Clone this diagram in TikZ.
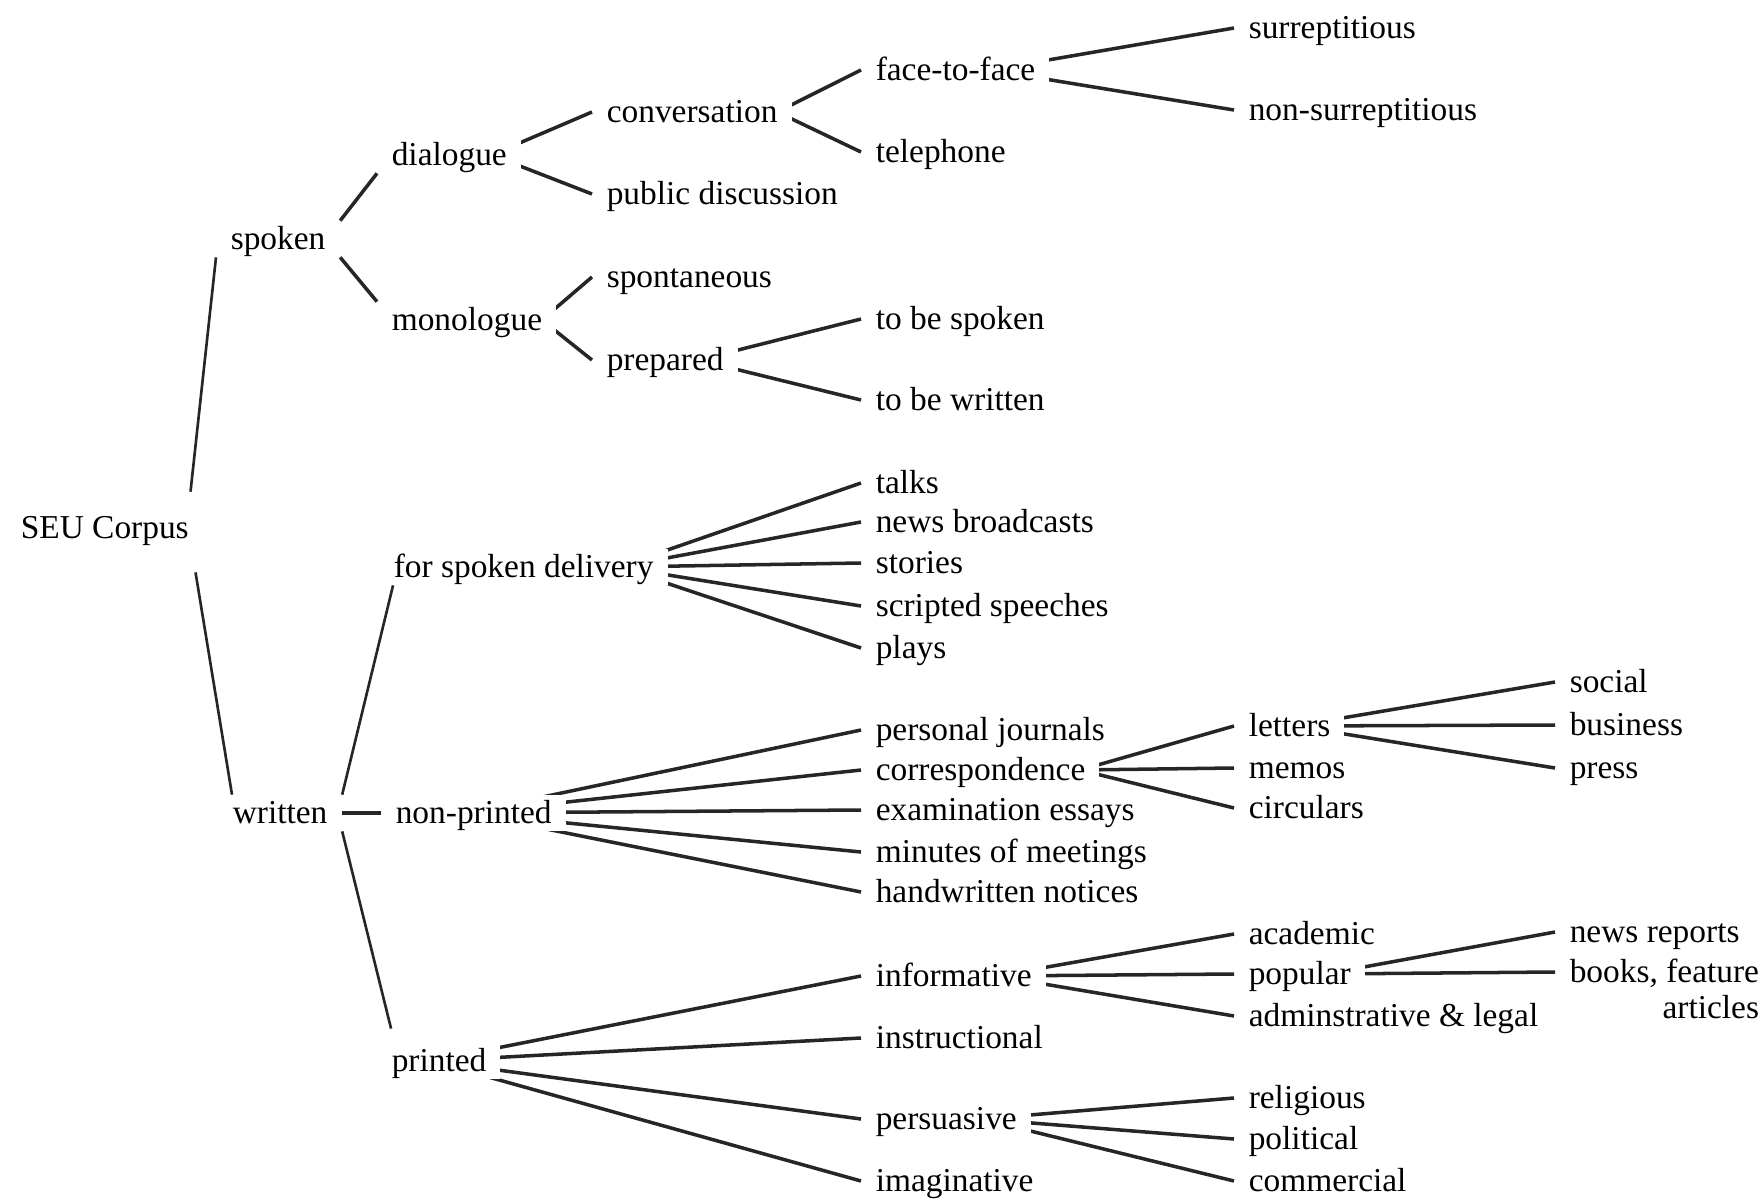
\documentclass[tikz,border=0pt]{standalone}
\usepackage{fontspec}
\setmainfont{Liberation Serif}
\usetikzlibrary{calc}
\usetikzlibrary{backgrounds}

\begin{document}
\begin{tikzpicture}[x=0.01cm, y=-0.01cm,
  lbl/.style={anchor=west, fill=white, inner xsep=4pt, inner ysep=1pt,
    text height=1.5ex, text depth=.25ex, font=\fontsize{9.5}{11}\selectfont},
  br/.style={line width=1pt, black!85},
  stem/.style={line width=.75pt, black!85}]
\useasboundingbox (0,0) rectangle (1760,1200);
\node[lbl] (seu) at (6,528) {SEU Corpus};
\node[lbl] (spoken) at (216,239) {spoken};
\node[lbl] (written) at (218,813) {written};
\node[lbl] (dialogue) at (377,155) {dialogue};
\node[lbl] (monologue) at (377,320) {monologue};
\node[lbl] (conv) at (592,112) {conversation};
\node[lbl] (pubdisc) at (592,194) {public discussion};
\node[lbl] (spont) at (592,277) {spontaneous};
\node[lbl] (prep) at (592,360) {prepared};
\node[lbl] (f2f) at (861,70) {face-to-face};
\node[lbl] (tele) at (861,152) {telephone};
\node[lbl] (tbs) at (861,319) {to be spoken};
\node[lbl] (tbw) at (861,400) {to be written};
\node[lbl] (surr) at (1234,28) {surreptitious};
\node[lbl] (nonsurr) at (1234,110) {non-surreptitious};
\node[lbl] (fsd) at (379,567) {for spoken delivery};
\node[lbl] (talks) at (861,483) {talks};
\node[lbl] (newsb) at (861,522) {news broadcasts};
\node[lbl] (stories) at (861,563) {stories};
\node[lbl] (scripted) at (861,606) {scripted speeches};
\node[lbl] (plays) at (861,648) {plays};
\node[lbl] (nonprinted) at (381,813) {non-printed};
\node[lbl] (journals) at (861,730) {personal journals};
\node[lbl] (corresp) at (861,770) {correspondence};
\node[lbl] (exams) at (861,810) {examination essays};
\node[lbl] (minutes) at (861,852) {minutes of meetings};
\node[lbl] (notices) at (861,892) {handwritten notices};
\node[lbl] (letters) at (1234,726) {letters};
\node[lbl] (memos) at (1234,768) {memos};
\node[lbl] (circulars) at (1234,808) {circulars};
\node[lbl] (social) at (1555,682) {social};
\node[lbl] (business) at (1555,725) {business};
\node[lbl] (press) at (1555,768) {press};
\node[lbl] (printed) at (377,1061) {printed};
\node[lbl] (inform) at (861,976) {informative};
\node[lbl] (instr) at (861,1038) {instructional};
\node[lbl] (persua) at (861,1119) {persuasive};
\node[lbl] (imagin) at (861,1181) {imaginative};
\node[lbl] (academic) at (1234,934) {academic};
\node[lbl] (popular) at (1234,974) {popular};
\node[lbl] (admin) at (1234,1016) {adminstrative \& legal};
\node[lbl] (newsrep) at (1555,932) {news reports};
\node[lbl] (books) at (1555,972) {books, feature};
\node[lbl, anchor=north east] (articles) at (books.south east) {articles};
\node[lbl] (religious) at (1234,1098) {religious};
\node[lbl] (political) at (1234,1139) {political};
\node[lbl] (commercial) at (1234,1181) {commercial};

\begin{scope}[on background layer]
\draw[stem] ([xshift=-1.3mm,yshift=1.8mm]seu.north east) -- (spoken.south west);
\draw[stem] ([xshift=-0.8mm,yshift=-2.6mm]seu.south east) -- ([xshift=1.4mm]written.north west);
\draw[br] (spoken.north east) -- (dialogue.south west);
\draw[br] (spoken.south east) -- (monologue.north west);
\draw[stem] (written.north east) -- ([xshift=4pt]fsd.south west);
\draw[br] (written.east) -- (nonprinted.west);
\draw[stem] (written.south east) -- ([xshift=4pt,yshift=4pt]printed.north west);
\foreach \p/\off/\cs in {dialogue/3mm/{conv,pubdisc}, conv/1.5mm/{f2f,tele},
    f2f/6mm/{surr,nonsurr}, monologue/1.5mm/{spont,prep}, prep/4mm/{tbs,tbw},
    fsd/5mm/{talks,newsb,stories,scripted,plays},
    nonprinted/10mm/{journals,corresp,exams,minutes,notices},
    corresp/2mm/{letters,memos,circulars}, letters/5mm/{social,business,press},
    printed/7mm/{inform,instr,persua,imagin}, inform/5mm/{academic,popular,admin},
    popular/4mm/{newsrep,books}, persua/5mm/{religious,political,commercial}}
  \foreach \c in \cs
    \draw[br] ([xshift=-\off]\p.east) -- (\c.west);
\end{scope}
\end{tikzpicture}
\end{document}
